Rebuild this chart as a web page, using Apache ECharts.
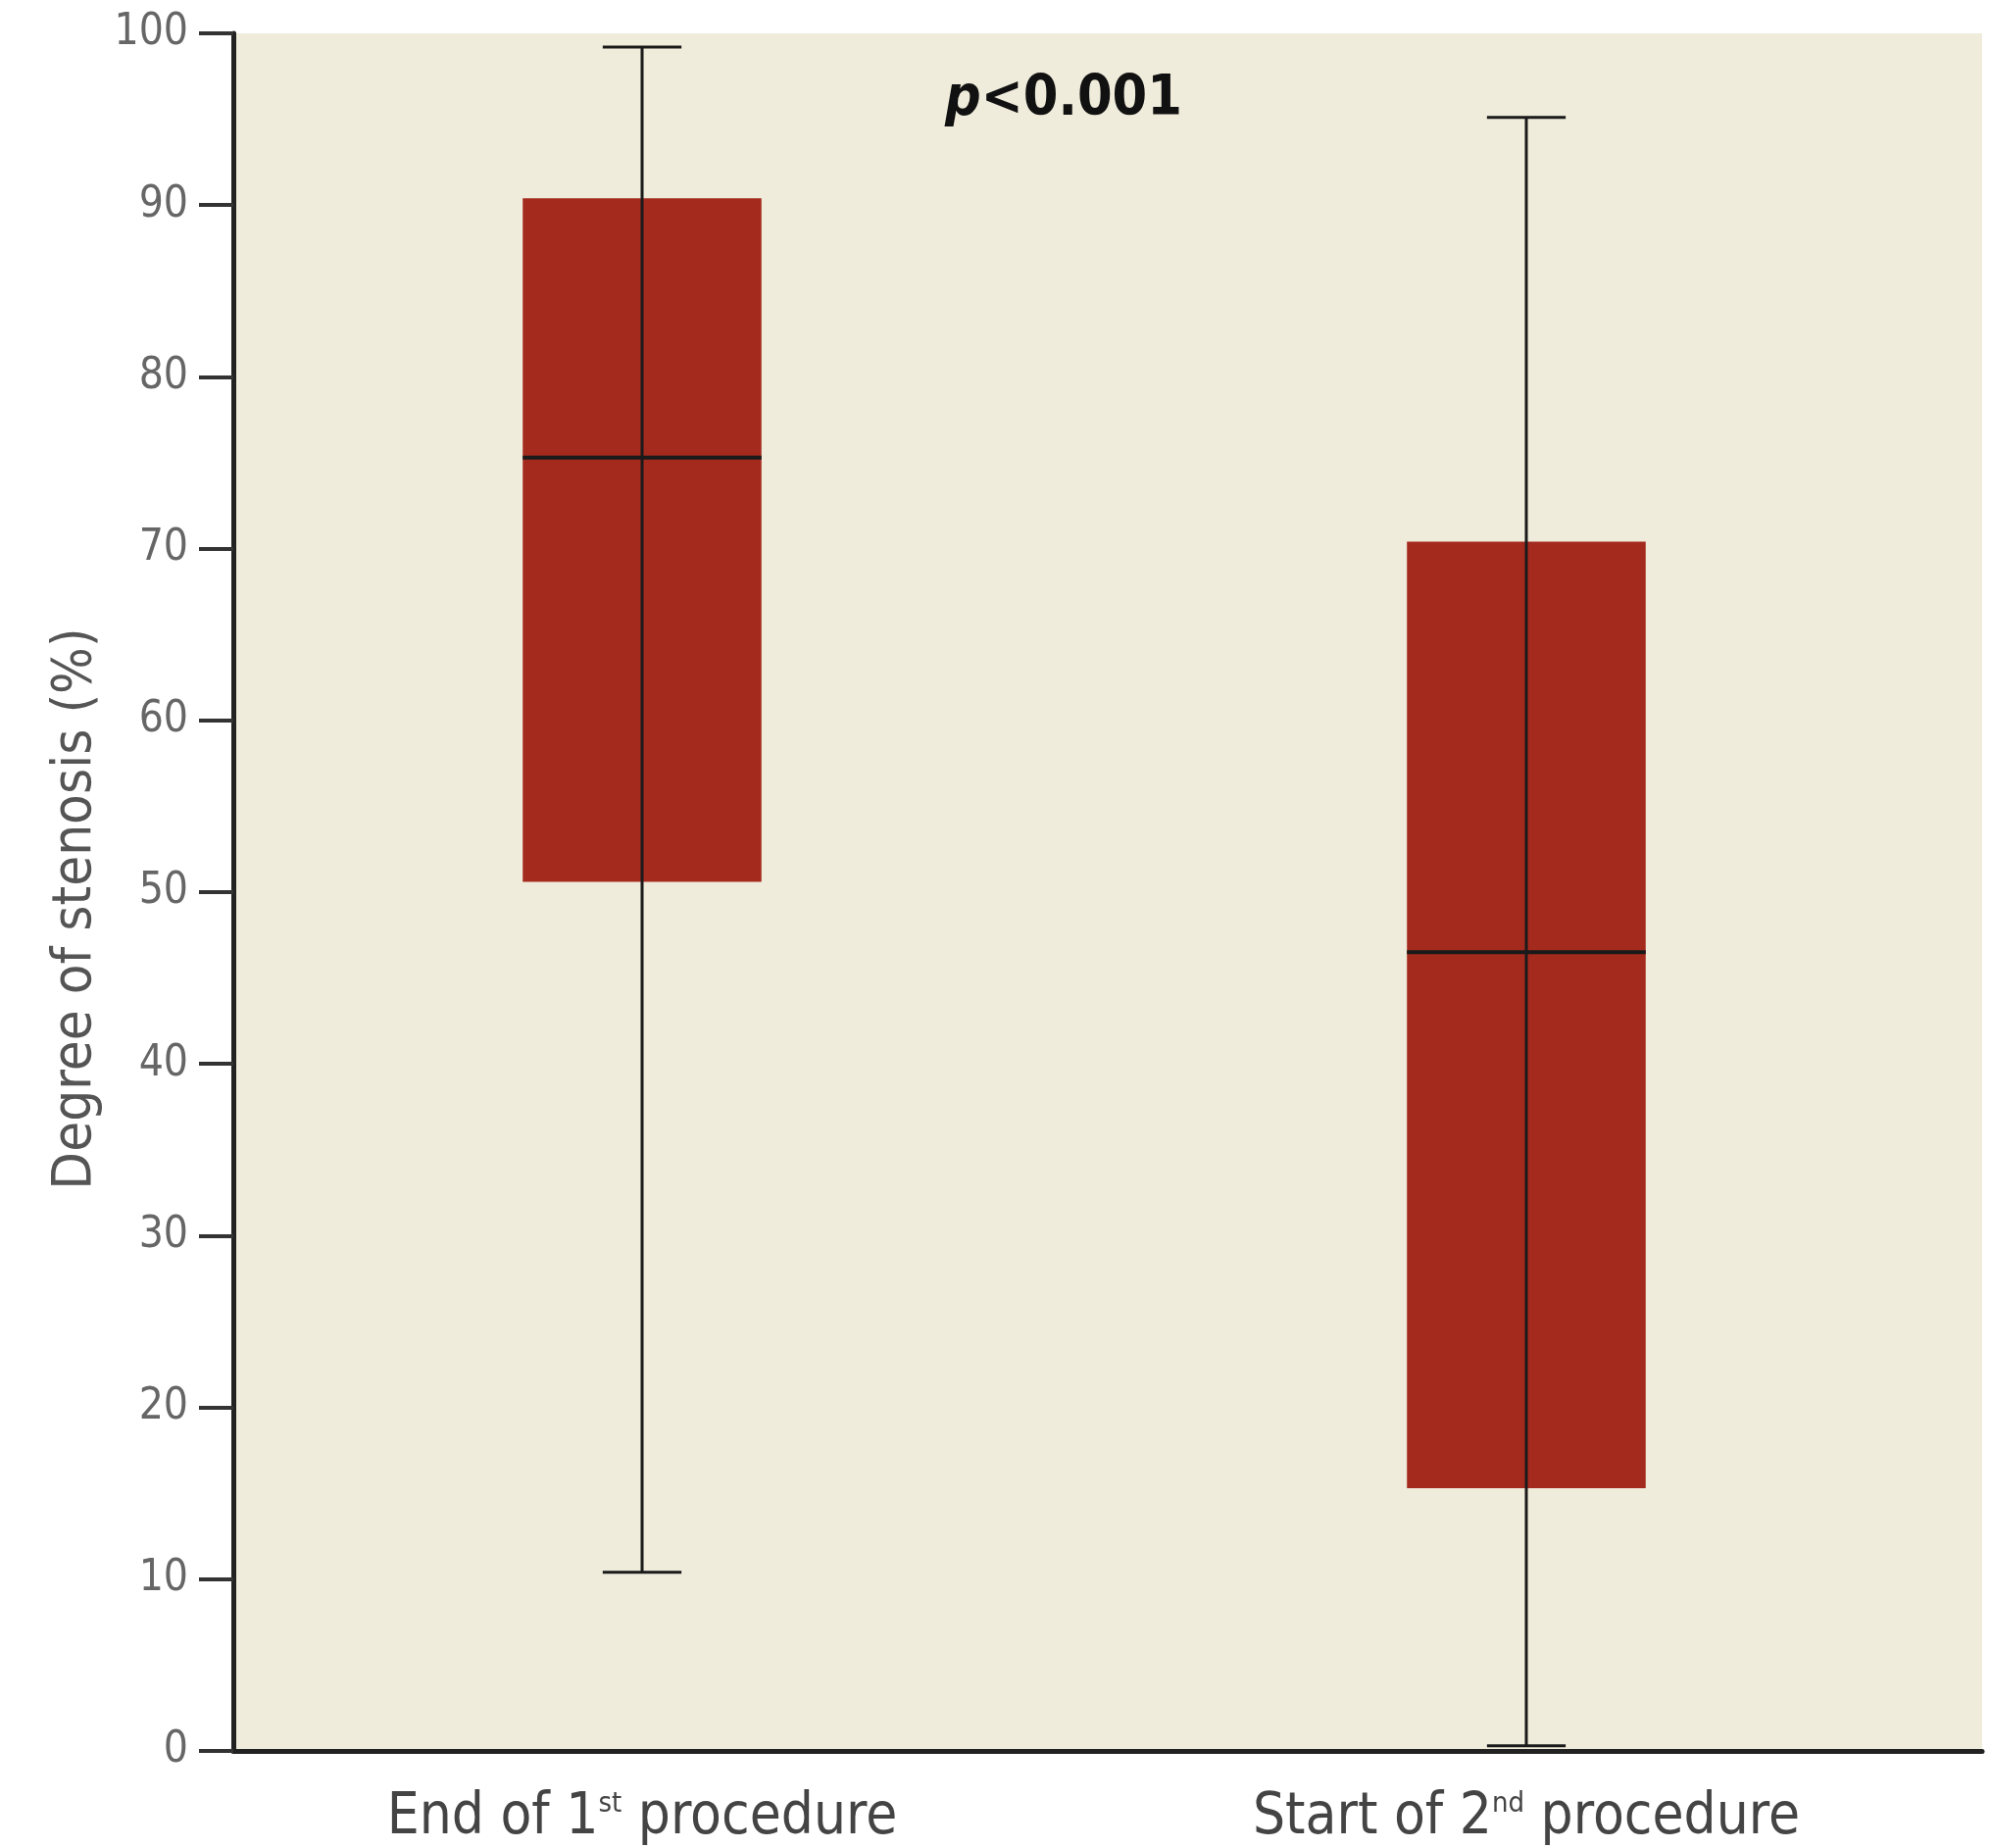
<!DOCTYPE html>
<html>
<head>
<meta charset="utf-8">
<title>Degree of stenosis</title>
<script src="https://cdn.jsdelivr.net/npm/echarts@6/dist/echarts.min.js"></script>
<style>
  html, body { margin: 0; padding: 0; background: #fff; }
  #chart { width: 2030px; height: 1885px; }
</style>
</head>
<body>
<div id="chart"></div>
<script>
// values
const categories = ['End of 1st procedure', 'Start of 2nd procedure']
const catLabels = ['End of 1{sup|st} procedure', 'Start of 2{sup|nd} procedure']
const whiskerLow = [10.4, 0.3]
const q1 = [50.6, 15.3]
const median = [75.3, 46.5]
const q3 = [90.4, 70.4]
const whiskerHigh = [99.2, 95.1]
const yTicks = { min: 0, max: 100, interval: 10 }
const pText = '{i|p}<0.001'

const font = "'Liberation Sans Narrow', 'DejaVu Sans Condensed', 'Liberation Sans', sans-serif"

const boxData = categories.map((c, i) => [i, whiskerLow[i], q1[i], median[i], q3[i], whiskerHigh[i]])

const chart = echarts.init(document.getElementById('chart'))

chart.setOption({
  animation: false,
  grid: [
    // background + visible axes
    { left: 238, right: 8, top: 34, bottom: 99, show: true, backgroundColor: '#EFECDB', borderWidth: 0 },
    // data grid, same vertical range
    { left: 204, right: 22, top: 34, bottom: 99 }
  ],
  xAxis: [
    {
      gridIndex: 0,
      type: 'value',
      min: 0,
      max: 1,
      axisLine: { show: true, lineStyle: { color: '#222', width: 5 } },
      axisTick: { show: false },
      axisLabel: { show: false },
      splitLine: { show: false }
    },
    {
      gridIndex: 1,
      type: 'category',
      data: categories,
      axisLine: { show: false },
      axisTick: { show: false },
      axisLabel: {
        interval: 0,
        hideOverlap: false,
        margin: 40,
        formatter: (v, i) => catLabels[i],
        fontFamily: font,
        fontSize: 58,
        color: '#444',
        rich: {
          sup: { fontFamily: font, fontSize: 29, color: '#444', verticalAlign: 'top', padding: [0, 0, 27, 0] }
        }
      }
    }
  ],
  yAxis: [
    {
      gridIndex: 0,
      type: 'value',
      min: yTicks.min,
      max: yTicks.max,
      interval: yTicks.interval,
      name: 'Degree of stenosis (%)',
      nameLocation: 'middle',
      nameGap: 128,
      nameTextStyle: { fontFamily: font, fontSize: 56, color: '#555', padding: [0, 34, 0, 0] },
      axisLine: { show: true, lineStyle: { color: '#222', width: 5 } },
      axisTick: { show: true, length: 35, lineStyle: { color: '#333', width: 4 } },
      axisLabel: { margin: 46, fontFamily: font, fontSize: 44, color: '#666' },
      splitLine: { show: false }
    },
    {
      gridIndex: 1,
      type: 'value',
      min: yTicks.min,
      max: yTicks.max,
      show: false
    }
  ],
  graphic: [
    {
      type: 'text',
      x: 1085,
      y: 102,
      style: {
        text: pText,
        align: 'center',
        verticalAlign: 'middle',
        fontFamily: font,
        fontSize: 57,
        fontWeight: 'bold',
        fill: '#111',
        rich: {
          i: { fontFamily: font, fontSize: 57, fontWeight: 'bold', fontStyle: 'italic', fill: '#111' }
        }
      }
    }
  ],
  series: [
    {
      type: 'custom',
      xAxisIndex: 1,
      yAxisIndex: 1,
      encode: { x: 0, y: [1, 2, 3, 4, 5] },
      data: boxData,
      renderItem: function (params, api) {
        const x = api.value(0)
        const lo = api.coord([x, api.value(1)])
        const b = api.coord([x, api.value(2)])
        const m = api.coord([x, api.value(3)])
        const t = api.coord([x, api.value(4)])
        const hi = api.coord([x, api.value(5)])
        const band = api.size([1, 0])[0]
        const boxW = band * 0.27
        const capW = band * 0.089
        const cx = lo[0]
        const line = (x1, y1, x2, y2, w) => ({
          type: 'line',
          shape: { x1: x1, y1: y1, x2: x2, y2: y2 },
          style: { stroke: '#1a1a1a', lineWidth: w }
        })
        return {
          type: 'group',
          children: [
            {
              type: 'rect',
              shape: { x: cx - boxW / 2, y: t[1], width: boxW, height: b[1] - t[1] },
              style: { fill: '#A52A1E' }
            },
            line(cx - boxW / 2, m[1], cx + boxW / 2, m[1], 4),
            line(cx, hi[1], cx, lo[1], 3),
            line(cx - capW / 2, hi[1], cx + capW / 2, hi[1], 3),
            line(cx - capW / 2, lo[1], cx + capW / 2, lo[1], 3)
          ]
        }
      }
    }
  ]
})
</script>
</body>
</html>
